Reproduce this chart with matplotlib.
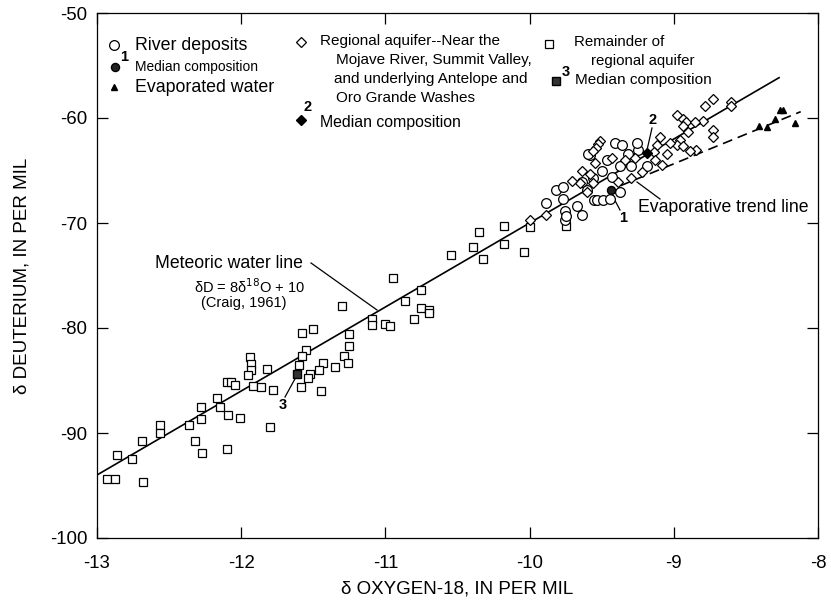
import matplotlib
matplotlib.use('Agg')
import matplotlib.pyplot as plt

plt.rcParams['font.family'] = ['Liberation Sans', 'DejaVu Sans']
plt.rcParams['axes.unicode_minus'] = False

# ---------------- data ----------------
# Remainder of regional aquifer (squares)
square_o18 = [-12.93, -12.875, -12.68, -12.86, -12.76, -12.69, -12.56, -12.56, -12.36, -12.28,
              -12.28, -12.32, -12.27, -12.17, -12.15, -12.09, -12.01, -12.10, -12.10, -12.07,
              -12.04, -11.92, -11.94, -11.93, -11.93, -11.95, -11.82, -11.86, -11.78, -11.80,
              -11.30, -11.58, -11.50, -11.09, -11.09, -11.25, -11.25, -11.55, -11.58, -11.60,
              -11.43, -11.46, -11.52, -11.54, -11.35, -11.29, -11.26, -11.585, -11.45, -11.005,
              -10.97, -10.95, -10.865, -10.75, -10.75, -10.70, -10.70, -10.80, -10.545, -10.35,
              -10.395, -10.32, -10.18, -10.175, -10.04, -10.0, -9.75]
square_d = [-94.4, -94.4, -94.7, -92.1, -92.5, -90.8, -89.2, -90.0, -89.2, -87.5,
            -88.7, -90.8, -91.9, -86.7, -87.5, -88.3, -88.6, -91.5, -85.1, -85.1,
            -85.4, -85.5, -82.8, -83.4, -84.0, -84.5, -83.9, -85.6, -85.9, -89.4,
            -77.9, -80.5, -80.1, -79.1, -79.7, -80.6, -81.7, -82.1, -82.7, -83.5,
            -83.3, -84.0, -84.4, -84.8, -83.7, -82.7, -83.3, -85.6, -86.0, -79.6,
            -79.8, -75.2, -77.4, -76.4, -78.1, -78.3, -78.6, -79.1, -73.0, -70.9,
            -72.3, -73.4, -70.3, -72.0, -72.8, -70.35, -70.3]

# River deposits (circles)
circle_o18 = [-9.817, -9.766, -9.77, -9.886, -9.67, -9.64, -9.55, -9.755, -9.58, -9.408,
              -9.36, -9.593, -9.465, -9.50, -9.316, -9.246, -9.373, -9.30, -9.188, -9.43,
              -9.558, -9.64, -9.604, -9.535, -9.49, -9.443, -9.373, -9.257, -9.755, -9.75]
circle_d = [-66.9, -66.6, -67.7, -68.1, -68.4, -69.2, -67.8, -69.7, -63.5, -62.4,
            -62.6, -63.4, -64.0, -65.0, -63.4, -63.0, -64.6, -64.6, -64.6, -65.6,
            -65.7, -66.1, -66.9, -67.8, -67.8, -67.7, -67.0, -62.35, -68.9, -69.3]

# Regional aquifer near the Mojave River etc. (diamonds)
diamond_o18 = [-8.784, -8.726, -8.60, -8.60, -8.80, -8.73, -8.73, -8.843, -8.891, -8.98,
               -8.938, -8.912, -8.938, -8.90, -8.853, -8.957, -8.98, -8.934, -9.026, -9.096,
               -9.119, -9.137, -9.045, -9.512, -9.526, -9.54, -9.56, -9.639, -9.58, -9.546,
               -9.65, -9.604, -9.558, -9.708, -10.0, -9.886, -9.428, -9.338, -9.27, -9.22,
               -9.30, -9.387, -9.13, -9.08]
diamond_d = [-58.9, -58.2, -58.45, -58.9, -60.3, -61.1, -61.8, -63.0, -63.1, -59.7,
             -60.1, -60.4, -60.8, -61.3, -60.35, -62.1, -62.6, -62.7, -62.4, -61.8,
             -62.6, -63.2, -63.4, -62.2, -62.5, -62.9, -63.1, -65.0, -65.3, -64.3,
             -66.2, -67.0, -66.2, -66.0, -69.7, -69.2, -63.8, -64.0, -63.8, -65.1,
             -65.7, -66.1, -64.0, -64.5]

# Evaporated water (triangles)
evap_o18 = [-8.407, -8.352, -8.298, -8.264, -8.24, -8.16]
evap_d = [-60.8, -60.9, -60.1, -59.2, -59.2, -60.45]

# Median compositions: 1 river deposits, 2 regional aquifer near river, 3 remainder
median_o18 = [-9.437, -9.188, -11.615]
median_d = [-66.85, -63.34, -84.41]

# Lines
mwl_o18 = [-13.0, -8.27]          # meteoric water line dD = 8 d18O + 10
evap_line_o18 = [-9.37, -8.12]    # evaporative trend line
evap_line_d = [-66.45, -59.4]

x_ticks = [-13, -12, -11, -10, -9, -8]
y_ticks = [-100, -90, -80, -70, -60, -50]

# ---------------- figure ----------------
W, H = 831, 603
fig = plt.figure(figsize=(W / 100, H / 100), dpi=100)
L, R, T, B = 97, 818, 13, 538
ax = fig.add_axes([L / W, 1 - B / H, (R - L) / W, (B - T) / H])
ax.set_xlim(-13, -8)
ax.set_ylim(-100, -50)
tr = ax.transAxes

def P(px, py):
    return ((px - L) / (R - L), (B - py) / (B - T))

def seg(p0, p1):
    a, b = P(*p0), P(*p1)
    ax.plot([a[0], b[0]], [a[1], b[1]], color='black', lw=0.9, transform=tr, clip_on=False)

mew = 0.9
sq_ms, ci_ms, di_ms = 6.0, 7.0, 4.7

ax.plot(mwl_o18, [8 * v + 10 for v in mwl_o18], color='black', lw=1.2, zorder=2)
ax.plot(evap_line_o18, evap_line_d, color='black', lw=1.2, dashes=(6, 3.5), zorder=2)

ax.plot(square_o18, square_d, 's', ms=sq_ms, mfc='white', mec='black', mew=mew, ls='none', zorder=3)
ax.plot(circle_o18, circle_d, 'o', ms=ci_ms, mfc='white', mec='black', mew=mew, ls='none', zorder=3)
ax.plot(diamond_o18, diamond_d, 'D', ms=di_ms, mfc='white', mec='black', mew=mew, ls='none', zorder=3)
ax.plot(evap_o18, evap_d, '^', ms=4.2, color='black', ls='none', zorder=3)
ax.plot(median_o18[0], median_d[0], 'o', ms=5.8, mfc='#222222', mec='black', zorder=4)
ax.plot(median_o18[1], median_d[1], 'D', ms=4.7, color='black', zorder=4)
ax.plot(median_o18[2], median_d[2], 's', ms=6, mfc='#333333', mec='black', zorder=4)

ax.tick_params(direction='in', top=True, right=True, length=8, width=0.9, labelsize=13.4)
ax.tick_params(axis='x', pad=12)
ax.tick_params(axis='y', pad=7)
ax.set_xticks(x_ticks)
ax.set_yticks(y_ticks)
for s in ax.spines.values():
    s.set_linewidth(0.9)

ax.set_xlabel('δ OXYGEN-18, IN PER MIL', fontsize=13.5, labelpad=6)
ax.set_ylabel('δ DEUTERIUM, IN PER MIL', fontsize=13.5, labelpad=14)

nf = 10.5   # number labels
# legend column 1
ax.plot(*P(114, 45), 'o', ms=ci_ms, mfc='white', mec='black', mew=mew, transform=tr)
ax.text(*P(135, 45), 'River deposits', transform=tr, fontsize=12.8, va='center')
ax.plot(*P(115, 67), 'o', ms=5.8, mfc='#222222', mec='black', transform=tr)
ax.text(*P(124, 57), '1', transform=tr, fontsize=nf, va='center', ha='center', fontweight='bold')
ax.text(*P(135, 67), 'Median composition', transform=tr, fontsize=9.9, va='center')
ax.plot(*P(114, 87), '^', ms=4.2, color='black', transform=tr)
ax.text(*P(135, 88), 'Evaporated water', transform=tr, fontsize=12.8, va='center')
# legend column 2
ax.plot(*P(301, 42), 'D', ms=di_ms, mfc='white', mec='black', mew=mew, transform=tr)
ax.text(*P(320, 41), 'Regional aquifer--Near the', transform=tr, fontsize=11, va='center')
ax.text(*P(336, 60), 'Mojave River, Summit Valley,', transform=tr, fontsize=11, va='center')
ax.text(*P(334, 79), 'and underlying Antelope and', transform=tr, fontsize=11, va='center')
ax.text(*P(336, 98), 'Oro Grande Washes', transform=tr, fontsize=11, va='center')
ax.plot(*P(301, 120), 'D', ms=di_ms, color='black', transform=tr)
ax.text(*P(308, 107), '2', transform=tr, fontsize=nf, va='center', ha='center', fontweight='bold')
ax.text(*P(320, 122), 'Median composition', transform=tr, fontsize=11.4, va='center')
# legend column 3
ax.plot(*P(549, 44), 's', ms=sq_ms, mfc='white', mec='black', mew=mew, transform=tr)
ax.text(*P(574, 42), 'Remainder of', transform=tr, fontsize=10.8, va='center')
ax.text(*P(591, 61), 'regional aquifer', transform=tr, fontsize=10.8, va='center')
ax.plot(*P(556, 81), 's', ms=sq_ms, mfc='#333333', mec='black', transform=tr)
ax.text(*P(566, 72), '3', transform=tr, fontsize=nf, va='center', ha='center', fontweight='bold')
ax.text(*P(575, 80), 'Median composition', transform=tr, fontsize=11.1, va='center')

# annotations
af = 12.7
ax.text(*P(303, 263), 'Meteoric water line', transform=tr, fontsize=af, va='center', ha='right')
ax.text(*P(250, 287), 'δD = 8δ$^{18}$O + 10', transform=tr, fontsize=10.5, va='center', ha='center')
ax.text(*P(244, 303), '(Craig, 1961)', transform=tr, fontsize=10.5, va='center', ha='center')
seg((311, 263), (377, 310))

ax.text(*P(638, 207), 'Evaporative trend line', transform=tr, fontsize=af, va='center', ha='left')
seg((637, 182), (660, 199))

ax.text(*P(623, 218), '1', transform=tr, fontsize=nf, va='center', ha='center', fontweight='bold')
seg((611, 193), (620, 210))
ax.text(*P(653, 120), '2', transform=tr, fontsize=nf, va='center', ha='center', fontweight='bold')
seg((652, 128), (647, 150))
ax.text(*P(283, 405), '3', transform=tr, fontsize=nf, va='center', ha='center', fontweight='bold')
seg((285, 397), (296, 377))

fig.savefig('out.png', dpi=100)
